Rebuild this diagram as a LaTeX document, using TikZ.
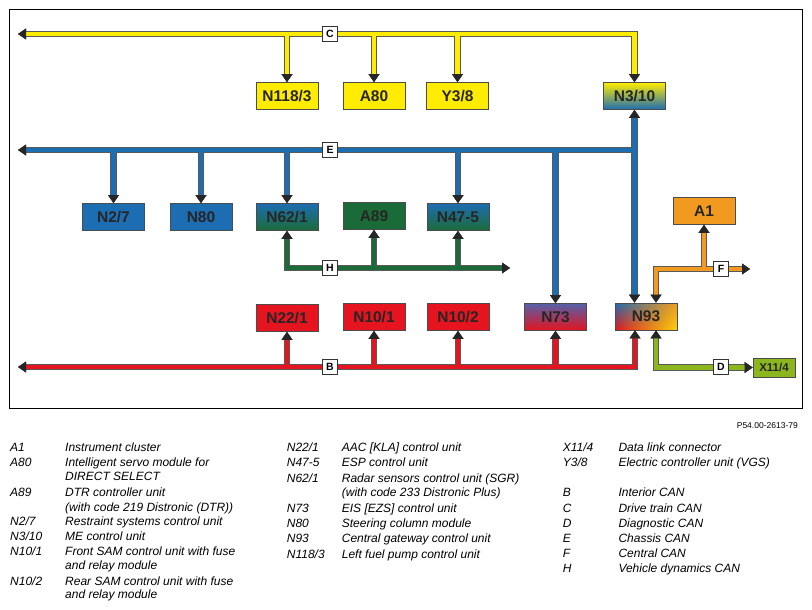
\documentclass[tikz,border=0pt]{standalone}
\usepackage{fontspec}
\setmainfont{Liberation Sans}
\usetikzlibrary{arrows.meta,shadings}

\definecolor{canC}{HTML}{FFEC00}
\definecolor{canE}{HTML}{1D6DB3}
\definecolor{canH}{HTML}{1B6B38}
\definecolor{canB}{HTML}{E5141E}
\definecolor{canF}{HTML}{F29A1F}
\definecolor{canD}{HTML}{8CB61E}
\definecolor{purp}{HTML}{5560A8}

\begin{document}
\begin{tikzpicture}[x=1pt, y=-1pt,
	>={Triangle[length=8pt,width=11pt,line width=0pt,color=black!85]},
	ecu/.style={draw=black!70, line width=0.7pt, minimum width=62pt, minimum height=27pt,
		inner sep=0pt, text=black!85, font=\bfseries\fontsize{15.5}{15.5}\selectfont},
	bus/.style={draw=#1, line width=4.6pt, preaction={draw=black!65, line width=6.4pt}},
	tap/.style={draw=#1, line width=4.6pt, preaction={draw=black!65, line width=6.4pt, shorten <=2.3pt}},
	canlbl/.style={draw=black!80, fill=white, line width=0.6pt, minimum size=15pt, inner sep=0pt,
		font=\bfseries\fontsize{10.5}{10.5}\selectfont},
	legkey/.style={anchor=west, inner sep=0pt, text height=8.6pt, text depth=0pt,
		font=\itshape\fontsize{12}{14}\selectfont}]
	\useasboundingbox (0,0) rectangle (812,610);
	\draw[line width=0.8pt] (9,9) rectangle (802,408);

	% control units
	\node[ecu, fill=canC] (n118) at (287,96) {N118/3};
	\node[ecu, fill=canC] (a80) at (374,96) {A80};
	\node[ecu, fill=canC] (y38) at (457.5,96) {Y3/8};
	\node[ecu, top color=canC, bottom color=canE] (n310) at (634.5,96) {N3/10};
	\node[ecu, fill=canE] (n27) at (113.5,217) {N2/7};
	\node[ecu, fill=canE] (n80) at (201,217) {N80};
	\node[ecu, top color=canE, bottom color=canH] (n621) at (287,217) {N62/1};
	\node[ecu, fill=canH] (a89) at (374,216) {A89};
	\node[ecu, top color=canE, bottom color=canH] (n475) at (458,217) {N47-5};
	\node[ecu, fill=canF] (a1) at (704,211) {A1};
	\node[ecu, fill=canB] (n221) at (287,318) {N22/1};
	\node[ecu, fill=canB] (n101) at (374,317) {N10/1};
	\node[ecu, fill=canB] (n102) at (458,317) {N10/2};
	\node[ecu, top color=purp, bottom color=canB] (n73) at (555.5,317) {N73};
	\node[ecu, upper left=canE, lower left=canB, upper right=canF, lower right=canC!70!canF] (n93) at (646,316.5) {N93};
	\node[ecu, fill=canD, minimum width=42pt, minimum height=19pt,
		font=\bfseries\fontsize{11.5}{11.5}\selectfont] (x114) at (774,367.5) {X11/4};

	% free bus ends
	\coordinate (cL) at (18,34);
	\coordinate (eL) at (18,150);
	\coordinate (hR) at (510,268);
	\coordinate (fR) at (750,269);
	\coordinate (bL) at (18,367);

	% C
	\draw[bus=canC, <->] (cL) -| (n310.north);
	\draw[tap=canC, ->] (n118 |- cL) -- (n118.north);
	\draw[tap=canC, ->] (a80 |- cL) -- (a80.north);
	\draw[tap=canC, ->] (y38 |- cL) -- (y38.north);
	% E
	\draw[bus=canE, <->] (n310.south) -- (n310.south |- n93.north);
	\draw[tap=canE, ->] (n310 |- eL) -- (eL);
	\draw[tap=canE, ->] (n27 |- eL) -- (n27.north);
	\draw[tap=canE, ->] (n80 |- eL) -- (n80.north);
	\draw[tap=canE, ->] (n621 |- eL) -- (n621.north);
	\draw[tap=canE, ->] (n475 |- eL) -- (n475.north);
	\draw[tap=canE, ->] (n73 |- eL) -- (n73.north);
	% H
	\draw[bus=canH, <->] (n621.south) |- (hR);
	\draw[tap=canH, ->] (a89 |- hR) -- (a89.south);
	\draw[tap=canH, ->] (n475 |- hR) -- (n475.south);
	% F
	\draw[bus=canF, <->] ([xshift=10pt]n93.north) |- (fR);
	\draw[tap=canF, ->] (a1 |- fR) -- (a1.south);
	% B
	\draw[bus=canB, <->] (bL) -| ([xshift=-11pt]n93.south);
	\draw[tap=canB, ->] (n221 |- bL) -- (n221.south);
	\draw[tap=canB, ->] (n101 |- bL) -- (n101.south);
	\draw[tap=canB, ->] (n102 |- bL) -- (n102.south);
	\draw[tap=canB, ->] (n73 |- bL) -- (n73.south);
	% D
	\draw[bus=canD, <->] ([xshift=10pt]n93.south) |- (x114.west);

	% bus letters
	\node[canlbl] (lC) at (330,34) {C};
	\node[canlbl] (lE) at (330,150) {E};
	\node[canlbl] (lH) at (330,268) {H};
	\node[canlbl] (lB) at (330,367) {B};
	\node[canlbl] (lF) at (721,269) {F};
	\node[canlbl] (lD) at (721,367) {D};

	\node[anchor=east, inner sep=0pt, font=\fontsize{8.5}{10}\selectfont] (ref) at (798,426) {P54.00-2613-79};

	% legend
	\node[legkey] (kA1) at (10,446.7) {A1};
	\node[legkey] (dA1) at (65,446.7) {Instrument cluster};
	\node[legkey] (kA80) at (10,461.7) {A80};
	\node[legkey] (dA80) at (65,461.7) {Intelligent servo module for};
	\node[legkey] (dA80b) at (65,475.7) {DIRECT SELECT};
	\node[legkey] (kA89) at (10,492.3) {A89};
	\node[legkey] (dA89) at (65,492.3) {DTR controller unit};
	\node[legkey] (dA89b) at (65,506.7) {(with code 219 Distronic (DTR))};
	\node[legkey] (kN27) at (10,521.3) {N2/7};
	\node[legkey] (dN27) at (65,521.3) {Restraint systems control unit};
	\node[legkey] (kN310) at (10,536) {N3/10};
	\node[legkey] (dN310) at (65,536) {ME control unit};
	\node[legkey] (kN101) at (10,551.3) {N10/1};
	\node[legkey] (dN101) at (65,551.3) {Front SAM control unit with fuse};
	\node[legkey] (dN101b) at (65,565) {and relay module};
	\node[legkey] (kN102) at (10,581) {N10/2};
	\node[legkey] (dN102) at (65,581) {Rear SAM control unit with fuse};
	\node[legkey] (dN102b) at (65,594.3) {and relay module};

	\node[legkey] (kN221) at (286.7,446.7) {N22/1};
	\node[legkey] (dN221) at (341.7,446.7) {AAC [KLA] control unit};
	\node[legkey] (kN475) at (286.7,461.7) {N47-5};
	\node[legkey] (dN475) at (341.7,461.7) {ESP control unit};
	\node[legkey] (kN621) at (286.7,477.7) {N62/1};
	\node[legkey] (dN621) at (341.7,477.7) {Radar sensors control unit (SGR)};
	\node[legkey] (dN621b) at (341.7,492.3) {(with code 233 Distronic Plus)};
	\node[legkey] (kN73) at (286.7,507.7) {N73};
	\node[legkey] (dN73) at (341.7,507.7) {EIS [EZS] control unit};
	\node[legkey] (kN80) at (286.7,522.7) {N80};
	\node[legkey] (dN80) at (341.7,522.7) {Steering column module};
	\node[legkey] (kN93) at (286.7,538.3) {N93};
	\node[legkey] (dN93) at (341.7,538.3) {Central gateway control unit};
	\node[legkey] (kN118) at (286.7,554) {N118/3};
	\node[legkey] (dN118) at (341.7,554) {Left fuel pump control unit};

	\node[legkey] (kX114) at (562.7,446.7) {X11/4};
	\node[legkey] (dX114) at (618.3,446.7) {Data link connector};
	\node[legkey] (kY38) at (562.7,462.3) {Y3/8};
	\node[legkey] (dY38) at (618.3,462.3) {Electric controller unit (VGS)};
	\node[legkey] (kB) at (562.7,492.3) {B};
	\node[legkey] (dB) at (618.3,492.3) {Interior CAN};
	\node[legkey] (kC) at (562.7,507.7) {C};
	\node[legkey] (dC) at (618.3,507.7) {Drive train CAN};
	\node[legkey] (kD) at (562.7,522.7) {D};
	\node[legkey] (dD) at (618.3,522.7) {Diagnostic CAN};
	\node[legkey] (kE) at (562.7,538.3) {E};
	\node[legkey] (dE) at (618.3,538.3) {Chassis CAN};
	\node[legkey] (kF) at (562.7,553.3) {F};
	\node[legkey] (dF) at (618.3,553.3) {Central CAN};
	\node[legkey] (kH) at (562.7,568.3) {H};
	\node[legkey] (dH) at (618.3,568.3) {Vehicle dynamics CAN};
\end{tikzpicture}
\end{document}
